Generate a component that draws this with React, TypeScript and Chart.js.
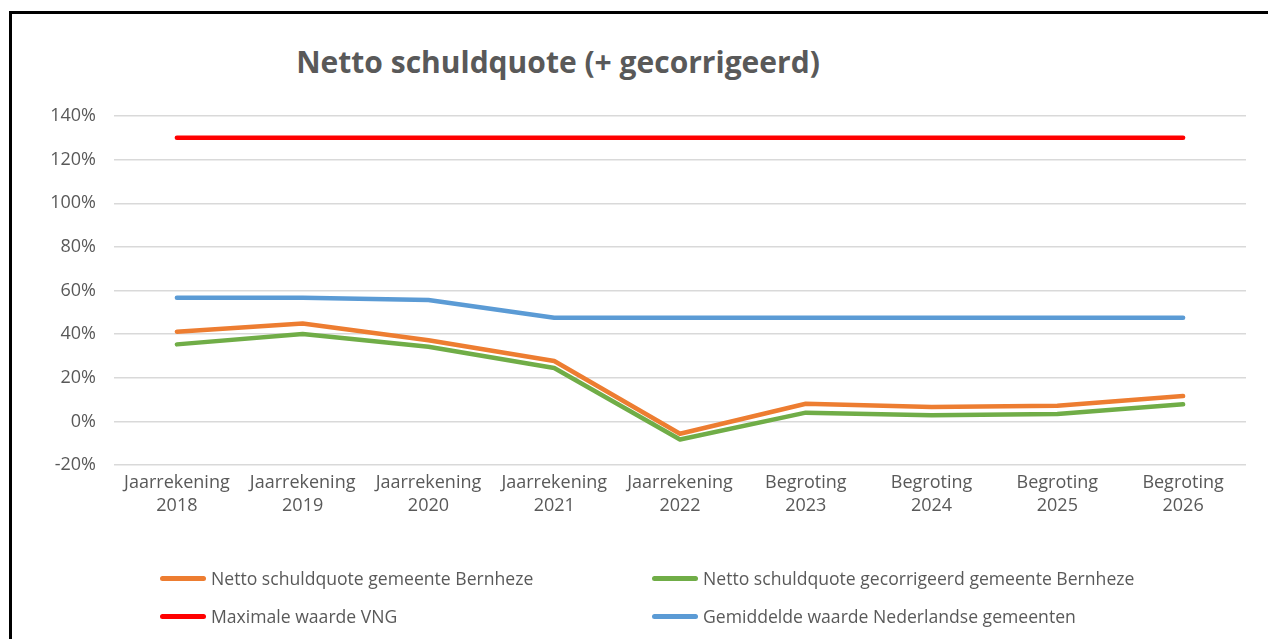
import React, { useEffect, useRef } from "react";
import { Chart, registerables } from "chart.js";

Chart.register(...registerables);

const TITLE = "Netto schuldquote (+ gecorrigeerd)";
const categories: string[][] = [
  ["Jaarrekening", "2018"],
  ["Jaarrekening", "2019"],
  ["Jaarrekening", "2020"],
  ["Jaarrekening", "2021"],
  ["Jaarrekening", "2022"],
  ["Begroting", "2023"],
  ["Begroting", "2024"],
  ["Begroting", "2025"],
  ["Begroting", "2026"],
];
const nettoBernheze = [41.1, 44.9, 37.2, 27.7, -5.7, 8.1, 6.6, 7.2, 11.6];
const gecorrigeerdBernheze = [35.3, 40.1, 34.2, 24.5, -8.3, 4.0, 2.8, 3.4, 7.8];
const maximaleVNG = [130, 130, 130, 130, 130, 130, 130, 130, 130];
const gemiddeldeNL = [56.7, 56.7, 55.6, 47.5, 47.5, 47.5, 47.5, 47.5, 47.5];
const yTicks = { min: -20, max: 140, step: 20 };

const series = [
  { label: "Netto schuldquote gemeente Bernheze", data: nettoBernheze, color: "#ED7D31" },
  { label: "Netto schuldquote gecorrigeerd gemeente Bernheze", data: gecorrigeerdBernheze, color: "#70AD47" },
  { label: "Maximale waarde VNG", data: maximaleVNG, color: "#FF0000" },
  { label: "Gemiddelde waarde Nederlandse gemeenten", data: gemiddeldeNL, color: "#5B9BD5" },
];

const FONT = "'Open Sans', 'Noto Sans', sans-serif";
const TEXT = "#595959";

export default function App() {
  const ref = useRef<HTMLCanvasElement | null>(null);

  useEffect(() => {
    document.documentElement.style.overflow = "hidden";
    const ctx = ref.current!.getContext("2d")!;
    const chart = new Chart(ctx, {
      type: "line",
      data: {
        labels: categories,
        datasets: series.map((s, i) => ({
          label: s.label,
          data: s.data,
          borderColor: s.color,
          backgroundColor: s.color,
          borderWidth: 4.5,
          borderCapStyle: "round",
          borderJoinStyle: "round",
          pointRadius: 0,
          tension: 0,
          fill: false,
          order: series.length - i,
        })),
      },
      options: {
        animation: false,
        responsive: false,
        maintainAspectRatio: false,
        layout: { padding: { top: 116, right: 22, bottom: 104, left: 0 } },
        plugins: {
          legend: { display: false },
          title: { display: false },
          tooltip: { enabled: false },
        },
        scales: {
          x: {
            offset: true,
            grid: { display: false, drawTicks: false },
            border: { display: false },
            ticks: {
              color: TEXT,
              font: { family: FONT, size: 18, lineHeight: 1.3 },
              padding: 6,
              maxRotation: 0,
              autoSkip: false,
            },
            afterFit: (s: any) => {
              s.height = 70;
            },
          },
          y: {
            min: yTicks.min,
            max: yTicks.max,
            grid: { color: "#D9D9D9", lineWidth: 1.5, drawTicks: false },
            border: { display: false },
            ticks: {
              stepSize: yTicks.step,
              color: TEXT,
              font: { family: FONT, size: 18 },
              padding: 18,
              callback: (v: any) => `${v}%`,
            },
            afterFit: (s: any) => {
              s.width = 114;
            },
          },
        },
      },
    });
    return () => chart.destroy();
  }, []);

  return (
    <div style={{ position: "fixed", left: 0, top: 0, width: 1268, height: 639, background: "#fff", overflow: "hidden" }}>
      <div
        style={{
          position: "absolute",
          left: 9,
          top: 11,
          width: 1280,
          height: 660,
          borderTop: "3px solid #000",
          borderLeft: "3px solid #000",
        }}
      />
      <div
        style={{
          position: "absolute",
          left: 0,
          width: 1116,
          top: 43,
          textAlign: "center",
          fontFamily: FONT,
          fontWeight: 700,
          fontSize: 30,
          lineHeight: "38px",
          color: TEXT,
          whiteSpace: "nowrap",
        }}
      >
        {TITLE}
      </div>
      <canvas ref={ref} width={1268} height={639} style={{ position: "absolute", left: 0, top: 0 }} />
      {series.map((s, i) => {
        const col = i % 2;
        const row = Math.floor(i / 2);
        return (
          <div
            key={s.label}
            style={{
              position: "absolute",
              left: col === 0 ? 160 : 652,
              top: row === 0 ? 565 : 603,
              height: 26,
              display: "flex",
              alignItems: "center",
              fontFamily: FONT,
              fontSize: 17.6,
              color: TEXT,
              whiteSpace: "nowrap",
            }}
          >
            <span
              style={{
                display: "inline-block",
                width: 46,
                height: 5,
                borderRadius: 3,
                background: s.color,
                marginRight: 5,
              }}
            />
            {s.label}
          </div>
        );
      })}
    </div>
  );
}
